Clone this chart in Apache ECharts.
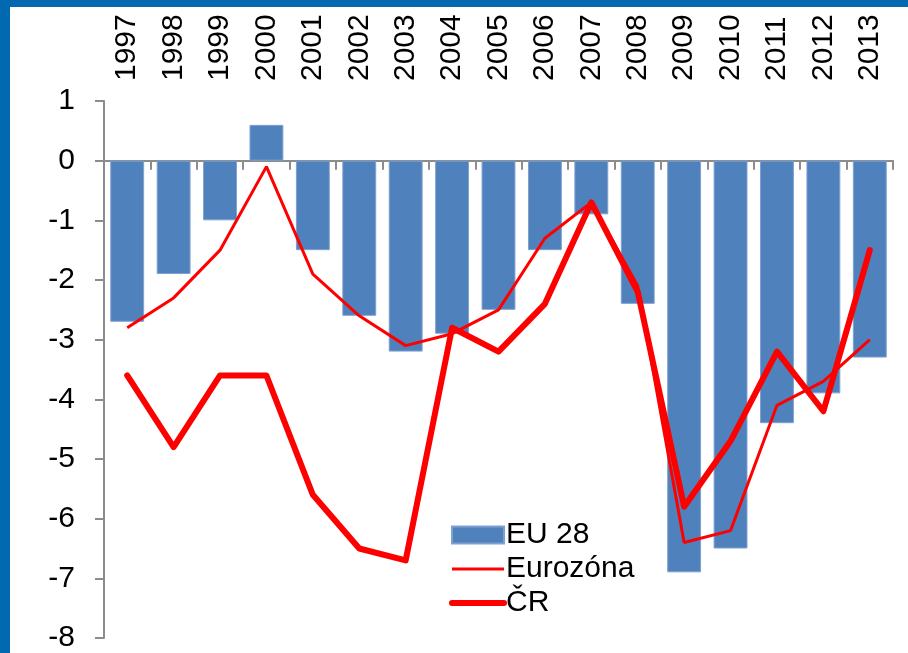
<!DOCTYPE html>
<html>
<head>
<meta charset="utf-8">
<script src="https://cdn.jsdelivr.net/npm/echarts@6/dist/echarts.min.js"></script>
<style>
html,body{margin:0;padding:0;background:#fff;}
#c{width:908px;height:653px;}
</style>
</head>
<body>
<div id="c"></div>
<script>
var years = ['1997','1998','1999','2000','2001','2002','2003','2004','2005','2006','2007','2008','2009','2010','2011','2012','2013'];
var eu28 = [-2.7,-1.9,-1.0,0.6,-1.5,-2.6,-3.2,-2.9,-2.5,-1.5,-0.9,-2.4,-6.9,-6.5,-4.4,-3.9,-3.3];
var eurozona = [-2.8,-2.3,-1.5,-0.1,-1.9,-2.6,-3.1,-2.9,-2.5,-1.3,-0.7,-2.1,-6.4,-6.2,-4.1,-3.7,-3.0];
var cr = [-3.6,-4.8,-3.6,-3.6,-5.6,-6.5,-6.7,-2.8,-3.2,-2.4,-0.7,-2.2,-5.8,-4.7,-3.2,-4.2,-1.5];
var yMin = -8, yMax = 1, yStep = 1;

var chart = echarts.init(document.getElementById('c'), null, {renderer:'canvas'});
var font = 'Liberation Sans, Arial, sans-serif';
chart.setOption({
  animation:false,
  backgroundColor:'#ffffff',
  textStyle:{fontFamily:font},
  graphic:[
    {type:'rect', shape:{x:0,y:0,width:908,height:7}, style:{fill:'#0069AF'}, z:100},
    {type:'rect', shape:{x:0,y:0,width:10,height:653}, style:{fill:'#0069AF'}, z:100}
  ],
  grid:{left:104, right:15, top:101, bottom:15, containLabel:false},
  legend:{
    orient:'vertical', left:449, top:520, padding:0, itemWidth:52, itemHeight:17, itemGap:4,
    textStyle:{fontSize:30, color:'#000', fontFamily:font, lineHeight:30, padding:[0,0,0,-3]},
    data:[
      {name:'EU 28', icon:'rect'},
      {name:'Eurozóna', itemStyle:{color:'rgba(0,0,0,0)', borderWidth:0, opacity:0}, lineStyle:{width:3, color:'#FF0000'}},
      {name:'ČR', itemStyle:{color:'rgba(0,0,0,0)', borderWidth:0, opacity:0}, lineStyle:{width:6, color:'#FF0000', cap:'round'}}
    ]
  },
  xAxis:[
    {type:'category', data:years, position:'bottom',
     axisLine:{onZero:true, lineStyle:{color:'#8c8c8c', width:2}},
     axisTick:{show:true, length:9, lineStyle:{color:'#8c8c8c', width:2}},
     axisLabel:{show:false}, splitLine:{show:false}},
    {type:'category', data:years, position:'top',
     axisLine:{show:false}, axisTick:{show:false},
     axisLabel:{show:true, rotate:-90, margin:20, fontSize:30, color:'#000', fontFamily:font},
     splitLine:{show:false}}
  ],
  yAxis:{
    type:'value', min:yMin, max:yMax, interval:yStep,
    axisLine:{show:true, lineStyle:{color:'#8c8c8c', width:2}},
    axisTick:{show:true, length:9, lineStyle:{color:'#8c8c8c', width:2}},
    axisLabel:{fontSize:30, color:'#000', margin:29, fontFamily:font},
    splitLine:{show:false}
  },
  series:[
    {name:'EU 28', type:'bar', data:eu28, xAxisIndex:0, barCategoryGap:'27%',
     itemStyle:{color:'#4F81BD', borderColor:'#7FA1CF', borderWidth:1}, z:2},
    {name:'Eurozóna', type:'line', data:eurozona, xAxisIndex:0, symbol:'none',
     lineStyle:{color:'#FF0000', width:3}, itemStyle:{color:'#FF0000'}, z:3},
    {name:'ČR', type:'line', data:cr, xAxisIndex:0, symbol:'none',
     lineStyle:{color:'#FF0000', width:6, cap:'round', join:'round'}, itemStyle:{color:'#FF0000'}, z:4}
  ]
});
</script>
</body>
</html>
